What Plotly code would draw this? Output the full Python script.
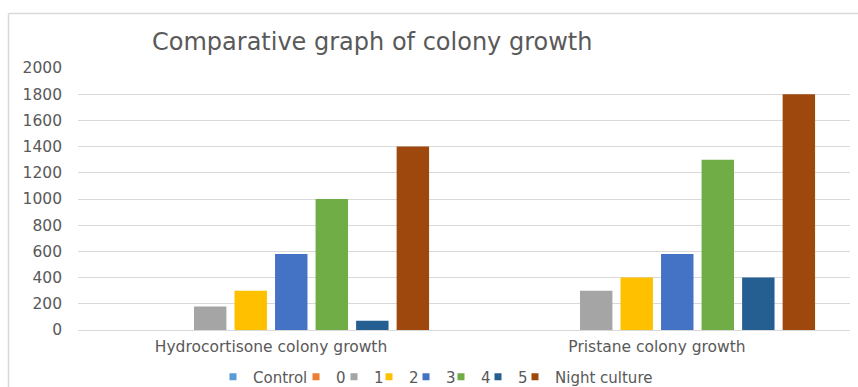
import plotly.graph_objects as go

categories = ["Hydrocortisone colony growth", "Pristane colony growth"]
series_names = ["Control", "0", "1", "2", "3", "4", "5", "Night culture"]
values_control = [0, 0]
values_0 = [0, 0]
values_1 = [180, 300]
values_2 = [300, 400]
values_3 = [580, 580]
values_4 = [1000, 1300]
values_5 = [70, 400]
values_night = [1400, 1800]
series_values = [values_control, values_0, values_1, values_2, values_3,
                 values_4, values_5, values_night]
colors = ["#5B9BD5", "#ED7D31", "#A5A5A5", "#FFC000", "#4472C4",
          "#70AD47", "#255E91", "#9E480E"]
y_ticks = list(range(0, 2001, 200))

# layout constants (pixels)
W, H = 858, 387
legend_text_x = [253, 336, 374, 409, 446, 481, 518, 555]

FONT = "DejaVu Sans, Verdana, sans-serif"
TXT = "#595959"

fig = go.Figure()
for name, vals, col in zip(series_names, series_values, colors):
    fig.add_trace(go.Bar(name=name, x=categories, y=vals, showlegend=False,
                         marker=dict(color=col, line=dict(width=0))))

legend_layouts = {}
for k, (name, col) in enumerate(zip(series_names, colors)):
    key = "legend" if k == 0 else f"legend{k+1}"
    fig.add_trace(go.Scatter(name=name, x=[None], y=[None], mode="markers",
                             marker=dict(symbol="square", size=7, color=col),
                             legend=key, showlegend=True, hoverinfo="skip"))
    legend_layouts[key] = dict(
        xref="container", yref="container",
        x=(legend_text_x[k] - 40) / W, xanchor="left",
        y=(H - 377) / H, yanchor="middle",
        orientation="h", bgcolor="rgba(0,0,0,0)", borderwidth=0,
        font=dict(size=15, color=TXT, family=FONT), itemwidth=30)

fig.update_layout(
    width=W, height=H,
    margin=dict(l=78, r=8, t=68, b=57, autoexpand=False),
    paper_bgcolor="white", plot_bgcolor="white",
    barmode="group", bargap=0.16, bargroupgap=0.2,
    font=dict(family=FONT, color=TXT, size=14),
    title=dict(text="Comparative graph of colony growth",
               font=dict(size=24, color=TXT, family=FONT),
               x=152/W, xanchor="left", xref="container",
               y=1-42/H, yanchor="middle", yref="container"),
    xaxis=dict(showline=False, ticks="", ticklabelstandoff=5, automargin=False,
               tickfont=dict(size=15.5, color=TXT)),
    yaxis=dict(range=[0, 2000], tickvals=y_ticks, showgrid=True, automargin=False,
               gridcolor="#D9D9D9", gridwidth=1, zeroline=True,
               zerolinecolor="#D9D9D9", zerolinewidth=1, ticks="",
               ticklabelstandoff=15, tickfont=dict(size=15.5, color=TXT)),
    **legend_layouts,
)
# chart frame: top and left edges
fig.add_shape(type="line", xref="x domain", yref="y domain",
              x0=(8.5-78)/772, x1=(858-78)/772, y0=(330-13.5)/262, y1=(330-13.5)/262,
              line=dict(color="#D9D9D9", width=1.5))
fig.add_shape(type="line", xref="x domain", yref="y domain",
              x0=(8.5-78)/772, x1=(8.5-78)/772, y0=(330-13.5)/262, y1=(330-387)/262,
              line=dict(color="#D9D9D9", width=1.5))

fig.write_html("out.html")
